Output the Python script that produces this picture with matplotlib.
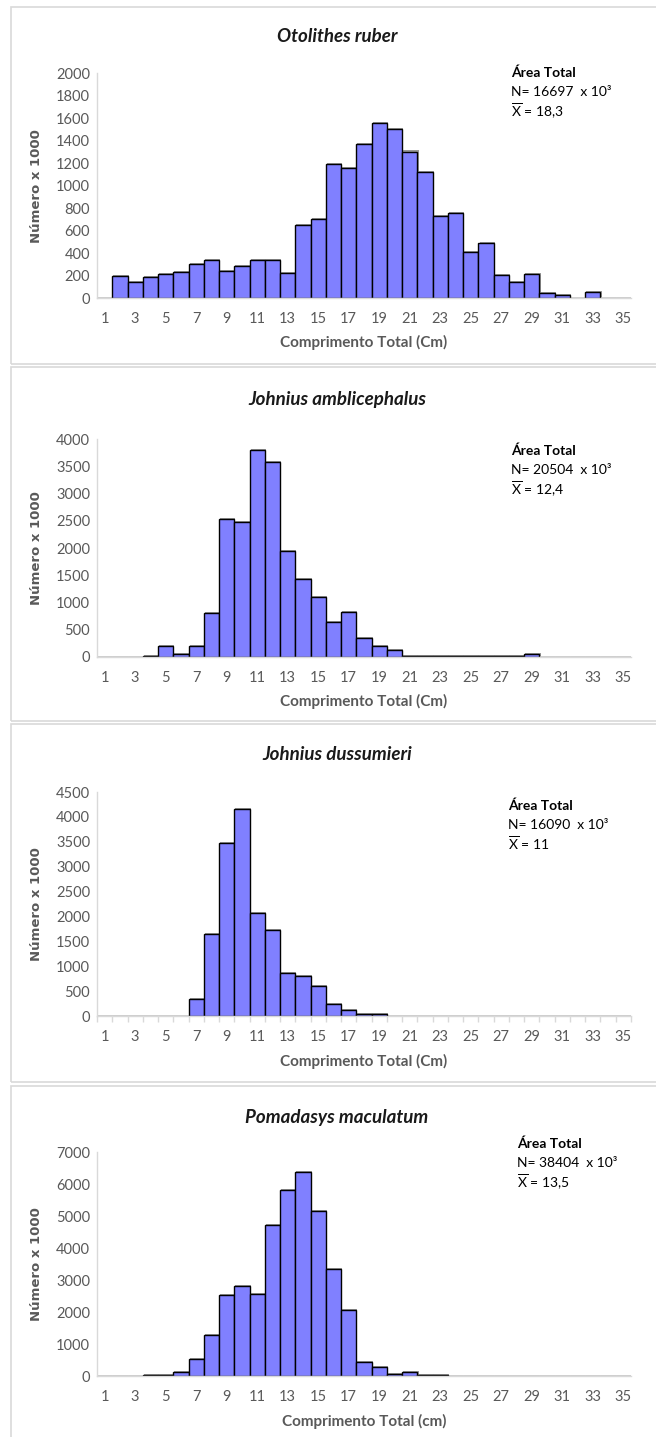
import matplotlib
matplotlib.use('Agg')
import matplotlib.pyplot as plt
import matplotlib.patheffects as pe
from matplotlib.patches import Rectangle
import numpy as np

plt.rcParams['font.family'] = ['Lato', 'DejaVu Sans']
plt.rcParams['mathtext.fontset'] = 'custom'
plt.rcParams['mathtext.rm'] = 'Lato'

# comprimento total (classes de 1 cm)
comprimento = list(range(1, 36))
tick_labels = [str(c) for c in range(1, 36, 2)]

# numero x 1000 por classe de comprimento
otolithes = [0, 195, 148, 187, 213, 231, 308, 338, 243, 290, 338, 338, 222, 652, 702,
             1194, 1156, 1372, 1556, 1502, 1304, 1120, 729, 756, 412, 495, 204, 148,
             213, 47, 30, 0, 53, 0, 0]
amblicephalus = [0, 0, 0, 20, 202, 49, 202, 798, 2540, 2479, 3798, 3577, 1939, 1436, 1104,
                 644, 822, 337, 190, 123, 10, 10, 10, 10, 10, 10, 10, 10,
                 49, 0, 0, 0, 0, 0, 0]
dussumieri = [0, 0, 0, 0, 0, 0, 335, 1640, 3469, 4152, 2062, 1721, 857, 797, 609,
              234, 120, 40, 40, 0, 0, 0, 0, 0, 0, 0, 0, 0,
              0, 0, 0, 0, 0, 0, 0]
pomadasys = [0, 0, 0, 30, 30, 135, 531, 1281, 2552, 2823, 2583, 4729, 5833, 6385, 5177,
             3344, 2062, 458, 302, 73, 135, 30, 30, 0, 0, 0, 0, 0,
             0, 0, 0, 0, 0, 0, 0]

especies = ['Otolithes ruber', 'Johnius amblicephalus', 'Johnius dussumieri', 'Pomadasys maculatum']
series = [otolithes, amblicephalus, dussumieri, pomadasys]
n_total = ['16697', '20504', '16090', '38404']
media = ['18,3', '12,4', '11', '13,5']
unidade = ['Cm', 'Cm', 'Cm', 'cm']
y_max = [2000, 4000, 4500, 7000]
y_step = [200, 500, 500, 1000]

W, H = 656, 1437
# layout in pixels: (axis baseline, axis top, title y, xlabel y, annotation x, annotation y, panel top, panel bottom)
layout = [
    (298.3, 73.3, 36, 342, 511, 73, 7, 364),
    (656.7, 439.3, 399, 701, 511, 451, 367, 721),
    (1016, 792, 754, 1061, 508, 806, 724, 1082),
    (1376.3, 1152.3, 1117, 1421, 517, 1144, 1086, 1460),
]
ax_left, ax_right = 97, 631

fig = plt.figure(figsize=(W / 100, H / 100), dpi=100)

gray = '#595959'
for i in range(4):
    base, top, ty, xly, anx, any_, ptop, pbot = layout[i]

    # chart area border
    fig.patches.append(Rectangle((11 / W, 1 - pbot / H), (W + 20) / W, (pbot - ptop) / H,
                                 transform=fig.transFigure, fill=False,
                                 edgecolor='#d9d9d9', linewidth=1.2))

    ax = fig.add_axes([ax_left / W, 1 - base / H, (ax_right - ax_left) / W, (base - top) / H])
    bars = ax.bar(comprimento, series[i], width=1.0, color='#8080FF',
                  edgecolor='black', linewidth=1.0)
    for b in bars:
        b.set_path_effects([pe.SimplePatchShadow(offset=(0.8, 0.8), shadow_rgbFace='#555555', alpha=0.6),
                            pe.Normal()])

    ax.set_xlim(0.5, 35.5)
    ax.set_ylim(0, y_max[i])
    ax.set_yticks(np.arange(0, y_max[i] + 1, y_step[i]))
    ax.set_xticks(range(1, 36, 2))
    ax.set_xticklabels(tick_labels)
    for s in ['top', 'right']:
        ax.spines[s].set_visible(False)
    for s in ['left', 'bottom']:
        ax.spines[s].set_color('#d9d9d9')
        ax.spines[s].set_linewidth(1.0)
    ax.tick_params(axis='both', length=0, labelsize=10.5, labelcolor=gray, pad=5)
    ax.tick_params(axis='x', pad=10)
    if i == 2:
        ax.set_xticks(np.arange(0.5, 36, 1), minor=True)
        ax.tick_params(axis='x', which='minor', length=4, color='#d9d9d9', width=1)

    fig.text(337 / W, 1 - ty / H, especies[i], ha='center', va='center',
             fontsize=13.5, fontstyle='italic', fontweight='bold', color='#1a1a1a')
    fig.text(364 / W, 1 - xly / H, 'Comprimento Total (%s)' % unidade[i], ha='center', va='center',
             fontsize=11, fontweight='bold', color=gray)
    fig.text(37 / W, 1 - (base + top) / 2 / H, 'Número x 1000', ha='center', va='center',
             rotation=90, fontsize=9.5, fontweight='bold', color=gray, family='DejaVu Sans')

    fig.text(anx / W, 1 - any_ / H, 'Área Total', ha='left', va='center',
             fontsize=10, fontweight='bold', color='black')
    fig.text(anx / W, 1 - (any_ + 19) / H, 'N= %s  x 10³' % n_total[i], ha='left', va='center',
             fontsize=10, color='black')
    fig.text(anx / W, 1 - (any_ + 38) / H, r'$\overline{\mathrm{X}}$ = %s' % media[i], ha='left',
             va='center', fontsize=10, color='black')

plt.savefig('out.png', dpi=100, facecolor='white')
